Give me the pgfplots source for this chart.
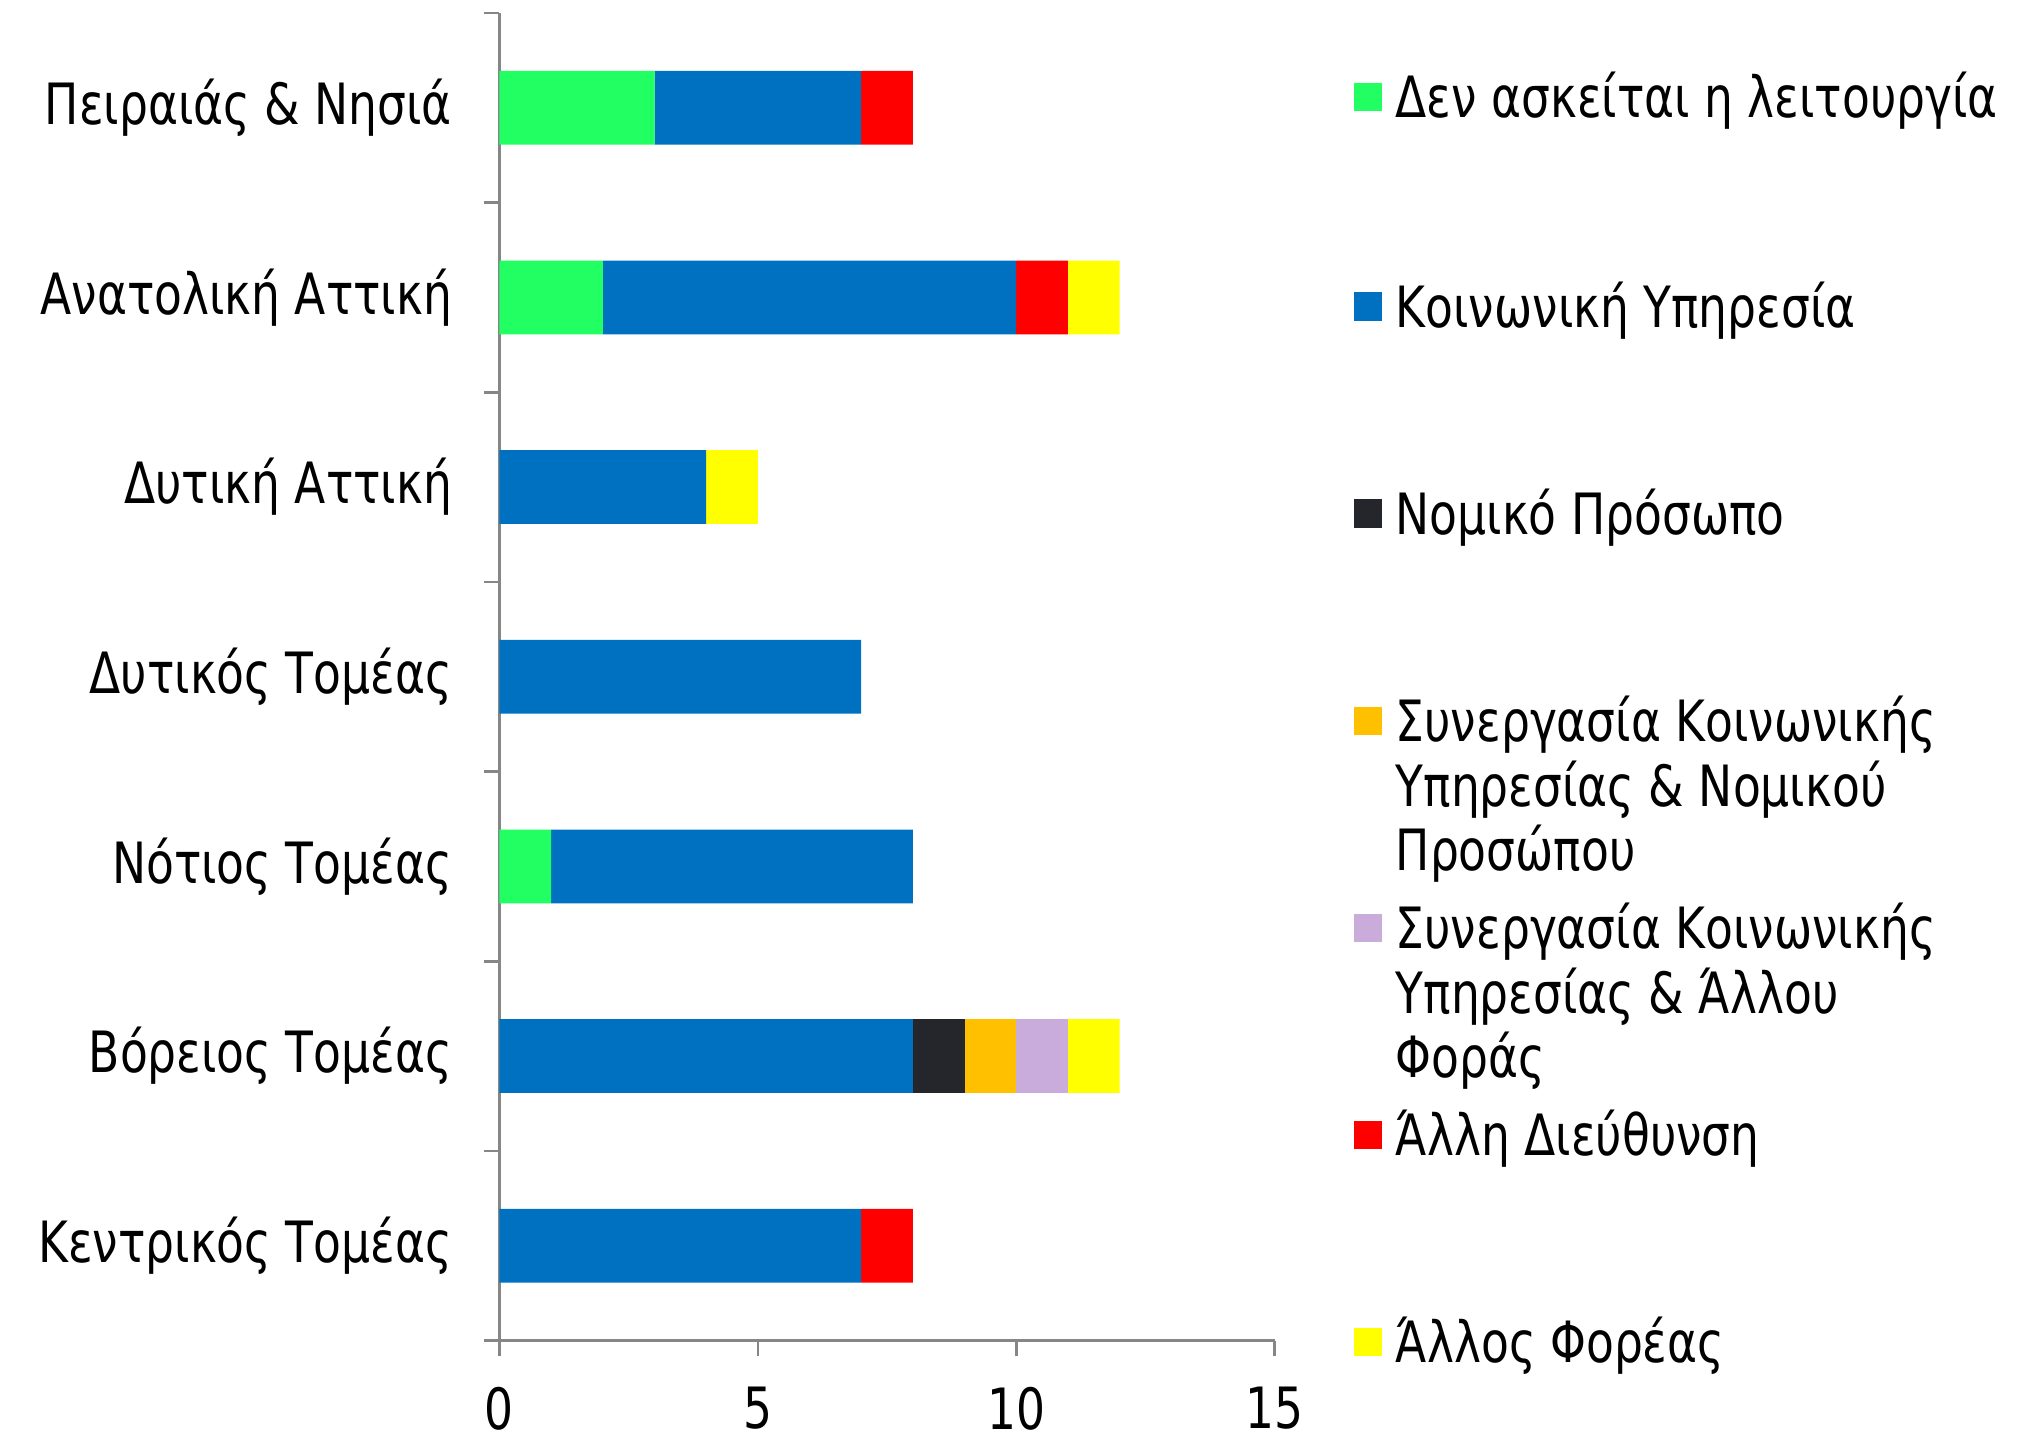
\documentclass[border=0pt]{standalone}
\usepackage{fontspec}
\setmainfont{DejaVu Sans}[FakeStretch=0.8]
\usepackage{pgfplots}
\pgfplotsset{compat=1.18}
\definecolor{cgreen}{RGB}{33,255,99}
\definecolor{cblue}{RGB}{0,112,192}
\definecolor{cblack}{RGB}{36,38,43}
\definecolor{corange}{RGB}{255,192,0}
\definecolor{clilac}{RGB}{201,172,220}
\definecolor{cred}{RGB}{255,0,0}
\definecolor{cyellow}{RGB}{255,255,0}
\definecolor{caxis}{RGB}{134,134,134}
\begin{document}
\fontsize{13.2pt}{15pt}\selectfont
\begin{tikzpicture}
\begin{axis}[
  at={(0,0)}, anchor=south west,
  scale only axis,
  width=179.7pt, height=307.8pt,
  xbar stacked,
  bar width=17.1pt,
  xmin=0, xmax=15,
  ymin=-0.5, ymax=6.5,
  xtick={0,5,10,15},
  ytick={-0.5,0.5,1.5,2.5,3.5,4.5,5.5,6.5},
  yticklabels={},
  extra y ticks={0,1,2,3,4,5,6},
  extra y tick labels={Κεντρικός Τομέας, Βόρειος Τομέας, Νότιος Τομέας, Δυτικός Τομέας, Δυτική Αττική, Ανατολική Αττική, Πειραιάς \& Νησιά},
  extra y tick style={major tick length=0pt, tick style={draw=none}},
  axis x line*=bottom,
  axis y line*=left,
  tick align=outside,
  major tick length=3.6pt,
  tick style={draw=caxis, line width=0.6pt},
  axis line style={draw=caxis, line width=0.6pt},
  /pgf/number format/assume math mode=true,
  tick label style={font=\fontsize{13.2pt}{15pt}\selectfont},
  yticklabel style={anchor=east, inner sep=0pt, xshift=-10.8pt},
  xticklabel style={anchor=north, inner sep=0pt, yshift=-7pt},
  clip=false,
]
\addplot[fill=cgreen, draw=none] coordinates {(0,0) (0,1) (1,2) (0,3) (0,4) (2,5) (3,6)};
\addplot[fill=cblue, draw=none] coordinates {(7,0) (8,1) (7,2) (7,3) (4,4) (8,5) (4,6)};
\addplot[fill=cblack, draw=none] coordinates {(0,0) (1,1) (0,2) (0,3) (0,4) (0,5) (0,6)};
\addplot[fill=corange, draw=none] coordinates {(0,0) (1,1) (0,2) (0,3) (0,4) (0,5) (0,6)};
\addplot[fill=clilac, draw=none] coordinates {(0,0) (1,1) (0,2) (0,3) (0,4) (0,5) (0,6)};
\addplot[fill=cred, draw=none] coordinates {(1,0) (0,1) (0,2) (0,3) (0,4) (1,5) (1,6)};
\addplot[fill=cyellow, draw=none] coordinates {(0,0) (1,1) (0,2) (0,3) (1,4) (1,5) (0,6)};
\end{axis}
% legend
\def\lx{198pt}
\def\tx{207.6pt}
\newcommand\legsq[2]{\fill[#1] (\lx,#2-3.3pt) rectangle ++(6.6pt,6.6pt);}
\newcommand\legtx[2]{\node[anchor=base west, inner sep=0pt] at (\tx,#1-4.8pt) {#2};}
\legsq{cgreen}{288.3pt}
\legtx{288.3pt}{Δεν ασκείται η λειτουργία}
\legsq{cblue}{239.7pt}
\legtx{239.7pt}{Κοινωνική Υπηρεσία}
\legsq{cblack}{191.7pt}
\legtx{191.7pt}{Νομικό Πρόσωπο}
\legsq{corange}{143.7pt}
\legtx{143.7pt}{Συνεργασία Κοινωνικής}
\legtx{128.7pt}{Υπηρεσίας \& Νομικού}
\legtx{113.7pt}{Προσώπου}
\legsq{clilac}{95.7pt}
\legtx{95.7pt}{Συνεργασία Κοινωνικής}
\legtx{80.7pt}{Υπηρεσίας \& Άλλου}
\legtx{65.7pt}{Φοράς}
\legsq{cred}{47.7pt}
\legtx{47.7pt}{Άλλη Διεύθυνση}
\legsq{cyellow}{-0.3pt}
\legtx{-0.3pt}{Άλλος Φορέας}
\pgfresetboundingbox
\useasboundingbox (-115.8pt,-23.4pt) rectangle (354.6pt,310.8pt);
\end{tikzpicture}
\end{document}
